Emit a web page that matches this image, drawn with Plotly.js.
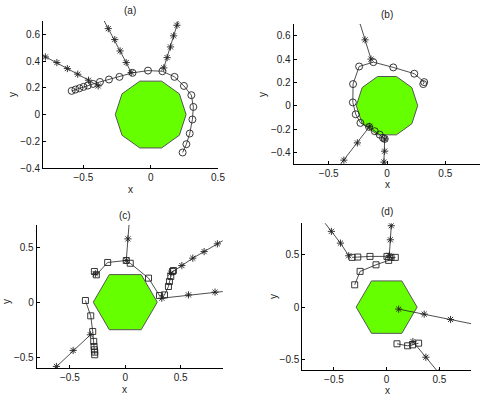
<!DOCTYPE html>
<html>
<head>
<meta charset="utf-8">
<script src="https://cdn.plot.ly/plotly-3.0.1.min.js"></script>
<style>
  html, body { margin:0; padding:0; background:#fff; }
  #plot { width:485px; height:397px; }
</style>
</head>
<body>
<div id="plot"></div>
<script>
// obstacle outlines
const decagonX = [0.263, 0.213, 0.081, -0.081, -0.213, -0.263, -0.213, -0.081, 0.081, 0.213, 0.263];
const decagonY = [0, 0.155, 0.250, 0.250, 0.155, 0, -0.155, -0.250, -0.250, -0.155, 0];
const hexagonX = [0.289, 0.144, -0.144, -0.289, -0.144, 0.144, 0.289];
const hexagonY = [0, 0.250, 0.250, 0, -0.250, -0.250, 0];

// (a)
const aStar1X = [-0.86, -0.782, -0.697, -0.619, -0.542, -0.462, -0.390];
const aStar1Y = [0.475, 0.431, 0.389, 0.344, 0.302, 0.257, 0.214];
const aStar2X = [-0.36, -0.315, -0.267, -0.227, -0.182, -0.145];
const aStar2Y = [0.728, 0.643, 0.561, 0.476, 0.389, 0.314];
const aStar3X = [0.22, 0.195, 0.170, 0.147, 0.122, 0.097];
const aStar3Y = [0.75, 0.668, 0.589, 0.506, 0.426, 0.349];
const aCircX = [-0.587, -0.559, -0.529, -0.499, -0.467, -0.427, -0.377, -0.310, -0.232, -0.135,
                -0.020, 0.087, 0.177, 0.247, 0.302, 0.317, 0.310, 0.290, 0.265, 0.237];
const aCircY = [0.177, 0.187, 0.197, 0.207, 0.217, 0.229, 0.244, 0.262, 0.282, 0.312,
                0.329, 0.324, 0.282, 0.214, 0.145, 0.057, -0.037, -0.142, -0.222, -0.284];

// (b)
const bStar1X = [-0.239, -0.188, -0.137];
const bStar1Y = [0.729, 0.564, 0.399];
const bStar2X = [-0.486, -0.370, -0.254, -0.148];
const bStar2Y = [-0.615, -0.467, -0.319, -0.177];
const bStar3X = [-0.03, -0.026, -0.020, -0.020];
const bStar3Y = [-0.59, -0.484, -0.390, -0.285];
const bCircX = [-0.020, -0.034, -0.063, -0.105, -0.154, -0.228, -0.268, -0.293, -0.291, -0.239,
                -0.117, 0.054, 0.234, 0.319, 0.311];
const bCircY = [-0.285, -0.276, -0.248, -0.219, -0.182, -0.148, -0.074, 0.028, 0.185, 0.336,
                0.373, 0.328, 0.274, 0.202, 0.185];

// (c)
const cStar1X = [0.039, 0.024, 0.009];
const cStar1Y = [0.77, 0.574, 0.378];
const cStar2X = [-0.773, -0.622, -0.471, -0.315];
const cStar2Y = [-0.728, -0.583, -0.438, -0.296];
const cStar3X = [0.952, 0.832, 0.712, 0.610, 0.511, 0.411];
const cStar3Y = [0.599, 0.529, 0.459, 0.399, 0.332, 0.263];
const cStar4X = [1.05, 0.811, 0.571, 0.330];
const cStar4Y = [0.115, 0.091, 0.066, 0.036];
const cStar5X = [-0.270];
const cStar5Y = [0.257];
const cSqA_X = [-0.279, -0.261, -0.159, 0.009, 0.045, 0.210, 0.309, 0.354, 0.390, 0.399, 0.411, 0.426, 0.435];
const cSqA_Y = [0.278, 0.248, 0.360, 0.378, 0.353, 0.218, 0.060, 0.066, 0.142, 0.187, 0.233, 0.278, 0.287];
const cSqB_X = [-0.360, -0.312, -0.294, -0.285, -0.282, -0.279, -0.276, -0.276];
const cSqB_Y = [0.015, -0.124, -0.266, -0.356, -0.402, -0.432, -0.453, -0.477];

// (d)
const dStar1X = [-0.61, -0.524, -0.438, -0.360];
const dStar1Y = [0.835, 0.723, 0.611, 0.490];
const dStar2X = [0.044, 0.035, 0.025];
const dStar2Y = [0.777, 0.643, 0.494];
const dStar3X = [0.856, 0.606, 0.356, 0.114];
const dStar3Y = [-0.169, -0.118, -0.067, -0.019];
const dStar4X = [0.495, 0.372, 0.249];
const dStar4Y = [-0.628, -0.478, -0.328];
const dSqA_X = [-0.328, -0.274, -0.158, 0.003, 0.041, 0.082, 0.019, -0.101, -0.252, -0.303];
const dSqA_Y = [0.475, 0.478, 0.484, 0.484, 0.475, 0.475, 0.446, 0.404, 0.341, 0.213];
const dSqB_X = [0.098, 0.199, 0.246, 0.303];
const dSqB_Y = [-0.350, -0.369, -0.360, -0.344];

const ink = '#222';
function poly(x, y, n){
  return { x:x, y:y, xaxis:'x'+n, yaxis:'y'+n, mode:'lines', fill:'toself',
    fillcolor:'#66ff00', line:{ color:'#555', width:1 }, hoverinfo:'skip' };
}
function path(x, y, n, symbol, size){
  return { x:x, y:y, xaxis:'x'+n, yaxis:'y'+n, mode:'lines+markers',
    line:{ color:ink, width:0.8 },
    marker:{ symbol:symbol, size:size, color:ink, line:{ color:ink, width:0.9 } } };
}
function stars(x, y, n){ return path(x, y, n, 'asterisk-open', 6); }

const data = [
  poly(decagonX, decagonY, ''),
  stars(aStar1X, aStar1Y, ''), stars(aStar2X, aStar2Y, ''), stars(aStar3X, aStar3Y, ''),
  path(aCircX, aCircY, '', 'circle-open', 7),

  poly(decagonX, decagonY, 2),
  stars(bStar1X, bStar1Y, 2), stars(bStar2X, bStar2Y, 2), stars(bStar3X, bStar3Y, 2),
  path(bCircX, bCircY, 2, 'circle-open', 7),

  poly(hexagonX, hexagonY, 3),
  stars(cStar1X, cStar1Y, 3), stars(cStar2X, cStar2Y, 3), stars(cStar3X, cStar3Y, 3),
  stars(cStar4X, cStar4Y, 3), stars(cStar5X, cStar5Y, 3),
  path(cSqA_X, cSqA_Y, 3, 'square-open', 6), path(cSqB_X, cSqB_Y, 3, 'square-open', 6),

  poly(hexagonX, hexagonY, 4),
  stars(dStar1X, dStar1Y, 4), stars(dStar2X, dStar2Y, 4), stars(dStar3X, dStar3Y, 4),
  stars(dStar4X, dStar4Y, 4),
  path(dSqA_X, dSqA_Y, 4, 'square-open', 6), path(dSqB_X, dSqB_Y, 4, 'square-open', 6)
];

const W = 485, H = 397;
function ax(domain, range, tickvals, anchor){
  return { domain:domain, range:range, tickvals:tickvals, anchor:anchor,
    showline:true, linecolor:'#000', linewidth:1, mirror:false,
    ticks:'inside', ticklen:3, tickcolor:'#000', showgrid:false, zeroline:false,
    tickfont:{ size:10, color:'#222' }, fixedrange:true };
}
const tx = [-0.5, 0, 0.5];
const tyAB = [-0.4, -0.2, 0, 0.2, 0.4, 0.6];
const tyCD = [-0.5, 0, 0.5];

function lbl(text, px, py, rot){
  return { text:text, x:px / W, y:1 - py / H, xref:'paper', yref:'paper',
    xanchor:'center', yanchor:'middle',
    showarrow:false, textangle:rot || 0, font:{ size:10, color:'#222' } };
}

const layout = {
  width:W, height:H,
  margin:{ l:0, r:0, t:0, b:0 },
  paper_bgcolor:'#fff', plot_bgcolor:'rgba(0,0,0,0)',
  showlegend:false,
  font:{ family:'Liberation Sans, Arial, sans-serif', size:10, color:'#222' },
  xaxis: ax([43/W, 218/W], [-0.8, 0.5], tx, 'y'),
  yaxis: ax([1-168/H, 1-21/H], [-0.4, 0.7], tyAB, 'x'),
  xaxis2: ax([293.7/W, 480.3/W], [-0.8, 0.8], tx, 'y2'),
  yaxis2: ax([1-164/H, 1-24/H], [-0.5, 0.7], tyAB, 'x2'),
  xaxis3: ax([36.7/W, 222.7/W], [-0.8, 0.88], tx, 'y3'),
  yaxis3: ax([1-368.3/H, 1-225/H], [-0.6, 0.7], tyCD, 'x3'),
  xaxis4: ax([302.3/W, 471/W], [-0.8, 0.8], tx, 'y4'),
  yaxis4: ax([1-370/H, 1-223.3/H], [-0.6, 0.8], tyCD, 'x4'),
  annotations:[
    lbl('(a)', 130, 11), lbl('(b)', 387, 15), lbl('(c)', 125, 215), lbl('(d)', 387, 211),
    lbl('x', 130, 189), lbl('x', 387, 185), lbl('x', 125, 389), lbl('x', 387, 390),
    lbl('y', 13, 95, -90), lbl('y', 263, 95, -90), lbl('y', 6, 302, -90), lbl('y', 273, 297, -90)
  ]
};

Plotly.newPlot('plot', data, layout, { displayModeBar:false, staticPlot:true });
</script>
</body>
</html>
